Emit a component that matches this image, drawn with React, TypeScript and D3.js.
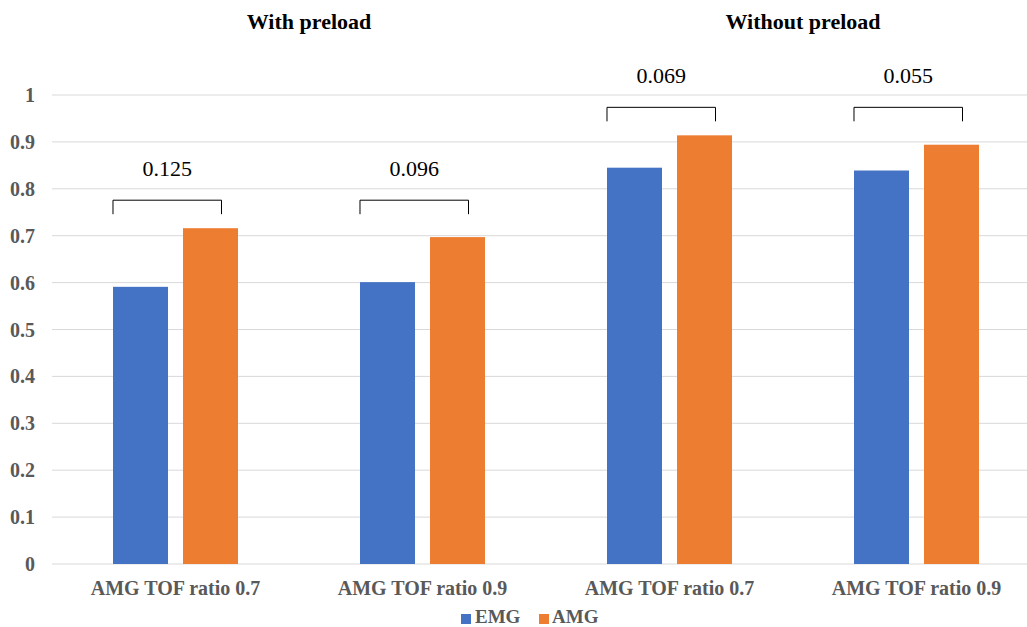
import React from "react";
import * as d3 from "d3";

// Category labels along the x axis, and the group each pair of categories belongs to
const categories = ["AMG TOF ratio 0.7", "AMG TOF ratio 0.9", "AMG TOF ratio 0.7", "AMG TOF ratio 0.9"];
const groups = ["With preload", "Without preload"];
const seriesNames = ["EMG", "AMG"];
const emgValues = [0.591, 0.601, 0.845, 0.839];
const amgValues = [0.716, 0.697, 0.914, 0.894];
const yTicks = [0, 0.1, 0.2, 0.3, 0.4, 0.5, 0.6, 0.7, 0.8, 0.9, 1];

const W = 1027;
const H = 627;
const COLORS = ["#4472C4", "#ED7D31"];
const AXIS_TEXT = "#595959";
const GRID = "#D9D9D9";
const SERIF = "'Liberation Serif', 'Times New Roman', serif";

export default function App() {
  const y = d3.scaleLinear().domain([0, 1]).range([564, 95]);
  const keys = categories.map((_, i) => String(i));
  const x0 = d3.scaleBand<string>().domain(keys).range([52, 1040]).paddingInner(0).paddingOuter(0);
  const x1 = d3
    .scaleBand<string>()
    .domain(seriesNames)
    .range([0, x0.bandwidth()])
    .paddingInner(15 / 70)
    .paddingOuter(0.8714);
  const series = [emgValues, amgValues];

  // brackets within a group share one height, set by the tallest bar of that group
  const groupMax = groups.map((_, gi) =>
    d3.max([amgValues[gi * 2], amgValues[gi * 2 + 1], emgValues[gi * 2], emgValues[gi * 2 + 1]]) as number
  );

  return (
    <svg
      width={W}
      height={H}
      style={{ position: "absolute", left: 0, top: 0, display: "block", background: "#fff" }}
      fontFamily={SERIF}
    >
      {/* horizontal gridlines */}
      {yTicks.map((t) => (
        <line key={"g" + t} x1={52} x2={W} y1={y(t)} y2={y(t)} stroke={GRID} strokeWidth={1} />
      ))}
      {/* y tick labels */}
      {yTicks.map((t) => (
        <text
          key={"t" + t}
          x={35}
          y={y(t) + 7}
          textAnchor="end"
          fontSize={20}
          fontWeight="bold"
          fill={AXIS_TEXT}
        >
          {String(t)}
        </text>
      ))}
      {/* bars */}
      {keys.map((k, i) => (
        <g key={"c" + k} transform={`translate(${x0(k)},0)`}>
          {seriesNames.map((s, j) => (
            <rect
              key={s}
              x={x1(s)}
              y={y(series[j][i])}
              width={x1.bandwidth()}
              height={y(0) - y(series[j][i])}
              fill={COLORS[j]}
            />
          ))}
        </g>
      ))}
      {/* difference brackets */}
      {keys.map((k, i) => {
        const left = (x0(k) as number) + (x1("EMG") as number);
        const right = (x0(k) as number) + (x1("AMG") as number) + x1.bandwidth() * 0.7;
        const top = y(groupMax[Math.floor(i / 2)]) - 28;
        const diff = (amgValues[i] - emgValues[i]).toFixed(3);
        return (
          <g key={"b" + k}>
            <path
              d={`M${left},${top + 14}V${top}H${right}V${top + 14}`}
              fill="none"
              stroke="#000"
              strokeWidth={1}
            />
            <text x={(left + right) / 2} y={top - 24} textAnchor="middle" fontSize={22} fill="#000">
              {diff}
            </text>
          </g>
        );
      })}
      {/* x category labels */}
      {keys.map((k, i) => (
        <text
          key={"x" + k}
          x={(x0(k) as number) + x0.bandwidth() / 2}
          y={595}
          textAnchor="middle"
          fontSize={20}
          fontWeight="bold"
          fill={AXIS_TEXT}
        >
          {categories[i]}
        </text>
      ))}
      {/* group titles */}
      {groups.map((g, gi) => {
        const a = (x0(keys[gi * 2]) as number) + x0.bandwidth() / 2;
        const b = (x0(keys[gi * 2 + 1]) as number) + x0.bandwidth() / 2;
        return (
          <text key={g} x={(a + b) / 2 + 10} y={29} textAnchor="middle" fontSize={22} fontWeight="bold" fill="#000">
            {g}
          </text>
        );
      })}
      {/* legend */}
      <g>
        <rect x={461} y={614} width={10} height={10} fill={COLORS[0]} />
        <text x={475} y={623} fontSize={19} fontWeight="bold" fill={AXIS_TEXT}>
          {seriesNames[0]}
        </text>
        <rect x={539} y={614} width={10} height={10} fill={COLORS[1]} />
        <text x={552} y={623} fontSize={19} fontWeight="bold" fill={AXIS_TEXT}>
          {seriesNames[1]}
        </text>
      </g>
    </svg>
  );
}
